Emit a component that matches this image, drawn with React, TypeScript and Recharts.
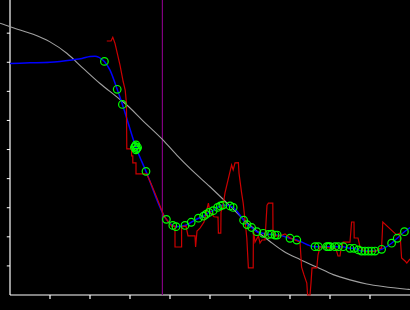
import { ComposedChart, Line, Scatter, XAxis, YAxis, ReferenceLine } from 'recharts'

// x: 0..100 along the bottom axis, y: 0..~101 up the left axis
const xTicks = [10, 20, 30, 40, 50, 60, 70, 80, 90]
const yTicks = [10, 20, 30, 40, 50, 60, 70, 80, 90]
const cursorX = 38.1

const greyCurve = [
  { x: -2.5, y: 93.4 }, { x: 0, y: 92.2 }, { x: 2.5, y: 91.1 }, { x: 5.8, y: 89.6 },
  { x: 10, y: 87.0 }, { x: 14.2, y: 83.1 }, { x: 18.3, y: 77.9 }, { x: 22.5, y: 72.7 },
  { x: 26.7, y: 68.1 }, { x: 29.2, y: 65.3 }, { x: 33.3, y: 59.8 }, { x: 38.1, y: 53.5 },
  { x: 41.7, y: 48.1 }, { x: 45, y: 43.5 }, { x: 50, y: 37.2 }, { x: 55, y: 30.6 },
  { x: 58.3, y: 26.1 }, { x: 61.7, y: 22.0 }, { x: 65, y: 18.4 }, { x: 68.3, y: 15.1 },
  { x: 72.5, y: 12.2 }, { x: 76.7, y: 9.6 }, { x: 80.8, y: 7.0 }, { x: 85, y: 5.2 },
  { x: 89.2, y: 3.8 }, { x: 93.3, y: 2.9 }, { x: 99.2, y: 2.0 }, { x: 100, y: 1.9 },
]

const blueLine = [
  { x: 0, y: 79.6 }, { x: 5, y: 79.8 }, { x: 10, y: 80.0 }, { x: 12.5, y: 80.3 },
  { x: 15.5, y: 80.8 }, { x: 18, y: 81.3 }, { x: 20, y: 82.0 }, { x: 21.25, y: 82.1 },
  { x: 22.25, y: 81.7 }, { x: 23.6, y: 80.3 }, { x: 25, y: 77.3 }, { x: 26.8, y: 70.7 },
  { x: 28.1, y: 65.5 }, { x: 31.5, y: 50.7 }, { x: 34, y: 42.5 }, { x: 39.1, y: 26.0 },
  { x: 40.7, y: 23.9 }, { x: 41.5, y: 23.5 }, { x: 43.75, y: 23.9 }, { x: 45.3, y: 25.0 },
  { x: 47.1, y: 26.4 }, { x: 48.4, y: 27.1 }, { x: 49, y: 27.7 }, { x: 49.75, y: 28.4 },
  { x: 50.8, y: 29.0 }, { x: 51.9, y: 30.1 }, { x: 52.6, y: 30.6 }, { x: 53.2, y: 30.9 },
  { x: 55, y: 30.6 }, { x: 55.8, y: 30.1 }, { x: 58.4, y: 25.7 }, { x: 59.25, y: 24.2 },
  { x: 60.4, y: 23.2 }, { x: 61.7, y: 21.75 }, { x: 63.3, y: 21.2 }, { x: 64.6, y: 20.8 },
  { x: 65.4, y: 20.9 }, { x: 66.25, y: 20.6 }, { x: 66.8, y: 20.6 }, { x: 70, y: 19.5 },
  { x: 71.7, y: 18.9 }, { x: 76.25, y: 16.6 }, { x: 77.1, y: 16.6 }, { x: 79.2, y: 16.6 },
  { x: 80, y: 16.6 }, { x: 81.25, y: 16.6 }, { x: 82.1, y: 16.6 }, { x: 83.3, y: 16.6 },
  { x: 85, y: 16.05 }, { x: 86, y: 16.05 }, { x: 87.1, y: 15.5 }, { x: 87.9, y: 15.1 },
  { x: 88.75, y: 15.1 }, { x: 89.6, y: 15.1 }, { x: 90.4, y: 15.1 }, { x: 91.25, y: 15.1 },
  { x: 92.9, y: 15.7 }, { x: 95.4, y: 17.8 }, { x: 96.8, y: 19.5 }, { x: 98.6, y: 21.75 },
  { x: 100, y: 23.2 },
]

const markers = [
  { x: 23.6, y: 80.3 }, { x: 26.8, y: 70.7 }, { x: 28.1, y: 65.5 },
  { x: 31.1, y: 50.7 }, { x: 31.5, y: 51.6 }, { x: 31.5, y: 49.9 }, { x: 31.9, y: 50.7 },
  { x: 31.3, y: 51.1 }, { x: 31.7, y: 50.3 },
  { x: 34, y: 42.5 }, { x: 39.1, y: 26.0 }, { x: 40.7, y: 23.9 }, { x: 41.5, y: 23.5 },
  { x: 43.75, y: 23.9 }, { x: 45.3, y: 25.0 }, { x: 47.1, y: 26.4 }, { x: 48.4, y: 27.1 },
  { x: 49, y: 27.7 }, { x: 49.75, y: 28.4 }, { x: 50.8, y: 29.0 }, { x: 51.9, y: 30.1 },
  { x: 52.6, y: 30.6 }, { x: 53.2, y: 30.9 }, { x: 55, y: 30.6 }, { x: 55.8, y: 30.1 },
  { x: 58.4, y: 25.7 }, { x: 59.25, y: 24.2 }, { x: 60.4, y: 23.2 }, { x: 61.7, y: 21.75 },
  { x: 63.3, y: 21.2 }, { x: 64.6, y: 20.8 }, { x: 65.4, y: 20.9 }, { x: 66.25, y: 20.6 },
  { x: 66.8, y: 20.6 }, { x: 70, y: 19.5 }, { x: 71.7, y: 18.9 }, { x: 76.25, y: 16.6 },
  { x: 77.1, y: 16.6 }, { x: 79.2, y: 16.6 }, { x: 79.6, y: 16.6 }, { x: 80, y: 16.6 },
  { x: 81.25, y: 16.6 }, { x: 82.1, y: 16.6 }, { x: 83.3, y: 16.6 }, { x: 85, y: 16.05 },
  { x: 86, y: 16.05 }, { x: 87.1, y: 15.5 }, { x: 87.9, y: 15.1 }, { x: 88.75, y: 15.1 },
  { x: 89.6, y: 15.1 }, { x: 90.4, y: 15.1 }, { x: 91.25, y: 15.1 }, { x: 92.9, y: 15.7 },
  { x: 95.4, y: 17.8 }, { x: 96.8, y: 19.5 }, { x: 98.6, y: 21.75 },
]

const redTrace = [
  { x: 24.2, y: 87.3 }, { x: 25.25, y: 87.3 }, { x: 25.7, y: 88.6 }, { x: 26.25, y: 86.5 },
  { x: 27.5, y: 79.0 }, { x: 28.3, y: 73.3 }, { x: 28.8, y: 70.4 }, { x: 29.1, y: 66.0 },
  { x: 29.2, y: 50.2 }, { x: 30.4, y: 50.2 }, { x: 30.4, y: 47.8 }, { x: 30.7, y: 47.8 },
  { x: 30.7, y: 45.4 }, { x: 31.5, y: 45.4 }, { x: 31.5, y: 41.6 }, { x: 34.2, y: 41.6 },
  { x: 35.5, y: 37.5 }, { x: 36.75, y: 33.3 }, { x: 37.9, y: 29.2 }, { x: 38.5, y: 27.1 },
  { x: 40.4, y: 23.7 }, { x: 41.25, y: 23.7 }, { x: 41.25, y: 16.5 }, { x: 42.9, y: 16.5 },
  { x: 42.9, y: 23.4 }, { x: 44, y: 23.7 }, { x: 44.5, y: 20.3 }, { x: 46.25, y: 20.3 },
  { x: 46.4, y: 16.5 }, { x: 46.75, y: 22.0 }, { x: 47.5, y: 23.0 }, { x: 48.5, y: 25.1 },
  { x: 49.6, y: 31.6 }, { x: 50, y: 28.5 }, { x: 51, y: 26.9 }, { x: 52, y: 26.8 },
  { x: 52.1, y: 21.3 }, { x: 52.7, y: 21.3 }, { x: 52.75, y: 28.5 }, { x: 53.25, y: 30.6 },
  { x: 53.75, y: 35.1 }, { x: 54.5, y: 39.5 }, { x: 55.4, y: 44.7 }, { x: 55.8, y: 43.0 },
  { x: 56.25, y: 45.4 }, { x: 57.1, y: 45.5 }, { x: 57.25, y: 41.9 }, { x: 57.9, y: 35.1 },
  { x: 58.3, y: 31.6 }, { x: 58.75, y: 25.8 }, { x: 59.2, y: 19.6 }, { x: 59.6, y: 9.3 },
  { x: 60.8, y: 9.3 }, { x: 60.85, y: 22.3 }, { x: 61.25, y: 18.2 }, { x: 62.1, y: 20.3 },
  { x: 62.5, y: 17.9 }, { x: 63, y: 18.9 }, { x: 63.75, y: 18.9 }, { x: 64.25, y: 30.9 },
  { x: 64.6, y: 31.6 }, { x: 65.7, y: 31.6 }, { x: 65.75, y: 21.7 }, { x: 66.25, y: 20.3 },
  { x: 67.5, y: 20.3 }, { x: 68.75, y: 21.0 }, { x: 70, y: 19.6 }, { x: 71.25, y: 18.9 },
  { x: 72.5, y: 18.2 }, { x: 72.9, y: 9.6 }, { x: 73.5, y: 6.9 }, { x: 74.2, y: 4.1 },
  { x: 74.4, y: 0 }, { x: 75, y: 0 }, { x: 75.25, y: 4.1 }, { x: 75.5, y: 9.3 },
  { x: 76.7, y: 9.3 }, { x: 77, y: 13.7 }, { x: 77.5, y: 16.5 }, { x: 80, y: 16.2 },
  { x: 81.5, y: 15.8 }, { x: 82, y: 13.4 }, { x: 82.5, y: 13.4 }, { x: 82.75, y: 15.8 },
  { x: 83.3, y: 18.2 }, { x: 85, y: 18.2 }, { x: 85.4, y: 25.1 }, { x: 86, y: 25.1 },
  { x: 86.05, y: 19.6 }, { x: 87, y: 19.6 }, { x: 87.5, y: 16.5 }, { x: 88.25, y: 15.5 },
  { x: 89, y: 14.8 }, { x: 91.5, y: 15.1 }, { x: 92.5, y: 16.0 }, { x: 92.9, y: 16.0 },
  { x: 93.2, y: 25.1 }, { x: 96.7, y: 20.6 }, { x: 97.5, y: 21.3 }, { x: 97.9, y: 12.7 },
  { x: 98.75, y: 11.7 }, { x: 99.2, y: 11.0 }, { x: 100, y: 12.4 },
]

const Ring = (props: any) => {
  const { cx, cy } = props
  return <circle cx={cx} cy={cy} r={3.8} fill="none" stroke="#00ff00" strokeWidth={1.2} />
}

const NoLabel = () => <g />

export default function App() {
  return (
    <div style={{ position: 'absolute', left: 0, top: 0, width: 410, height: 310, background: '#000' }}>
      <ComposedChart width={410} height={310} margin={{ top: 0, right: 0, bottom: 0, left: 0 }}>
        <XAxis
          type="number"
          dataKey="x"
          domain={[-2.5, 100]}
          ticks={xTicks}
          axisLine={false}
          tickLine={{ stroke: '#fff', strokeWidth: 1.2 }}
          tickSize={4}
          tick={NoLabel}
          height={15}
        />
        <YAxis type="number" dataKey="y" domain={[0, 101.4]} hide />

        <ReferenceLine x={0} stroke="#fff" strokeWidth={1.2} />
        <ReferenceLine segment={[{ x: 0, y: 0 }, { x: 100, y: 0 }]} stroke="#fff" strokeWidth={1.2} />
        {yTicks.map((t) => (
          <ReferenceLine key={t} segment={[{ x: -0.8, y: t }, { x: 0, y: t }]} stroke="#fff" strokeWidth={1} />
        ))}
        <ReferenceLine x={cursorX} stroke="#800080" strokeWidth={1.2} />

        <Line data={greyCurve} dataKey="y" type="monotone" stroke="#a0a0a0" strokeWidth={1.1} dot={false} activeDot={false} isAnimationActive={false} />
        <Line data={blueLine} dataKey="y" type="monotone" stroke="#0000ff" strokeWidth={1.5} dot={false} activeDot={false} isAnimationActive={false} />
        <Line data={redTrace} dataKey="y" type="linear" stroke="#cc0000" strokeWidth={1.2} dot={false} activeDot={false} isAnimationActive={false} />
        <Scatter data={markers} dataKey="y" shape={Ring} isAnimationActive={false} />
      </ComposedChart>
    </div>
  )
}
